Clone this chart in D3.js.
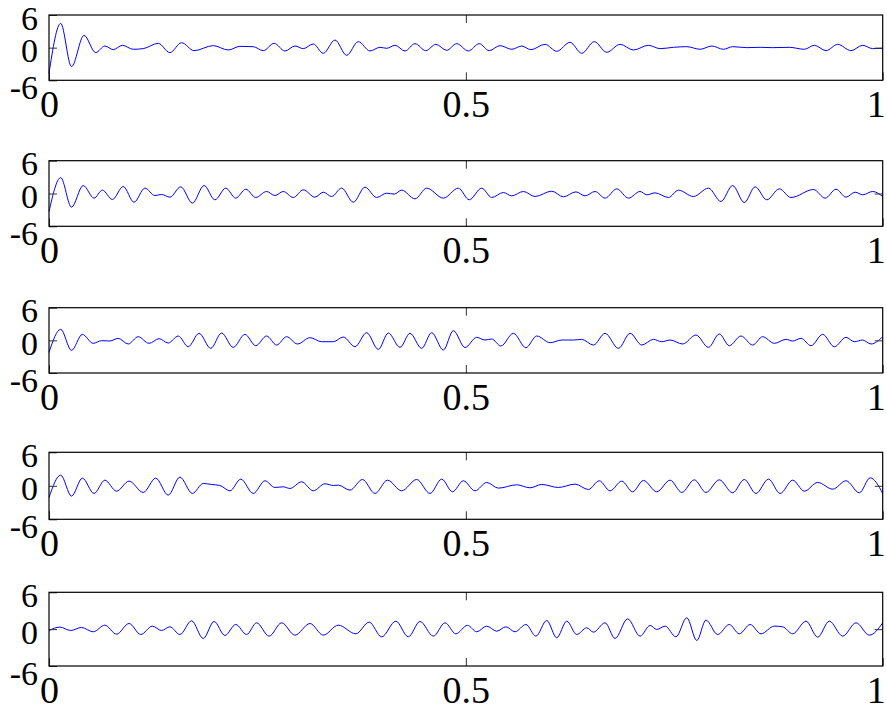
<!DOCTYPE html>
<html>
<head>
<meta charset="utf-8">
<script src="https://cdn.jsdelivr.net/npm/d3@7"></script>
<style>
body { margin: 0; background: #fff; }
svg { display: block; }
</style>
</head>
<body>
<div id="chart"></div>
<script>
// tick values
const xTicks = [0, 0.5, 1];
const yTicks = [-6, 0, 6];

// signal 1 (extrema: time, value)
const sig1T = [0, 0.014, 0.027, 0.042, 0.056, 0.067, 0.077, 0.088, 0.101, 0.113,
    0.131, 0.145, 0.159, 0.174, 0.197, 0.215, 0.229, 0.245, 0.257, 0.270,
    0.283, 0.295, 0.305, 0.317, 0.329, 0.343, 0.357, 0.371, 0.385, 0.397,
    0.405, 0.415, 0.427, 0.439, 0.452, 0.464, 0.477, 0.489, 0.503, 0.516,
    0.528, 0.541, 0.555, 0.567, 0.578, 0.595, 0.609, 0.625, 0.639, 0.654,
    0.669, 0.685, 0.701, 0.719, 0.733, 0.749, 0.765, 0.781, 0.795, 0.809,
    0.820, 0.837, 0.853, 0.868, 0.888, 0.906, 0.918, 0.932, 0.946, 0.962,
    0.976, 0.988, 1.0];
const sig1V = [-4.7, 4.45, -3.48, 2.26, -0.91, 0.30, -0.37, 0.43, -0.30, -0.18,
    0.79, -0.91, 0.91, -0.55, 0.37, -0.43, 0.24, 0.18, -0.55, 0.79,
    -0.61, 0.30, -0.18, 0.67, -1.04, 1.40, -1.40, 1.10, -0.61, 0.06,
    -0.12, 0.43, -0.61, 0.73, -0.55, 0.61, -0.49, 0.73, -0.61, 0.73,
    -0.55, 0.37, -0.30, 0.30, -0.37, 0.61, -0.67, 0.98, -1.04, 1.10,
    -0.85, 0.61, -0.43, 0.43, -0.18, 0.06, 0.18, -0.30, 0.30, -0.30,
    0.18, 0, 0.06, 0, 0.06, -0.30, 0.43, -0.55, 0.61, -0.55,
    0.43, -0.18, -0.12];

// signal 2
const sig2T = [0, 0.014, 0.027, 0.041, 0.054, 0.064, 0.076, 0.089, 0.102, 0.115,
    0.127, 0.135, 0.145, 0.158, 0.172, 0.186, 0.199, 0.212, 0.224, 0.236,
    0.248, 0.261, 0.271, 0.281, 0.293, 0.305, 0.319, 0.329, 0.339, 0.351,
    0.365, 0.379, 0.393, 0.405, 0.414, 0.423, 0.439, 0.453, 0.473, 0.491,
    0.504, 0.519, 0.531, 0.545, 0.555, 0.569, 0.583, 0.603, 0.617, 0.632,
    0.643, 0.655, 0.667, 0.681, 0.695, 0.709, 0.717, 0.727, 0.743, 0.755,
    0.773, 0.791, 0.806, 0.820, 0.834, 0.847, 0.861, 0.876, 0.890, 0.917,
    0.931, 0.944, 0.956, 0.967, 0.976, 0.988, 1.0];
const sig2V = [-3.3, 2.9, -2.5, 1.46, -0.85, 0.61, -1.1, 1.28, -1.59, 0.98,
    -0.37, -0.18, -0.67, 1.22, -1.77, 1.46, -1.16, 0.98, -0.85, 0.79,
    -0.73, 0.37, -0.37, 0.37, -0.73, 0.67, -0.67, 0.24, -0.55, 0.98,
    -1.59, 1.16, -0.73, 0.06, -0.12, 0.61, -0.98, 0.98, -0.85, 0.98,
    -1.16, 0.98, -0.73, 0.18, -0.43, 0.37, -0.55, 0.43, -0.61, 0.30,
    -0.43, 0.37, -0.85, 0.85, -0.85, 0.37, -0.24, 0.12, -0.73, 0.61,
    -0.55, 0.98, -1.46, 1.46, -1.65, 1.22, -1.16, 0.85, -0.73, 0.73,
    -0.85, 0.79, -0.67, 0.24, -0.24, 0.37, -0.55];

// signal 3
const sig3T = [0, 0.014, 0.027, 0.040, 0.053, 0.063, 0.073, 0.083, 0.095, 0.107,
    0.120, 0.132, 0.143, 0.155, 0.167, 0.180, 0.194, 0.207, 0.221, 0.235,
    0.248, 0.261, 0.273, 0.285, 0.298, 0.313, 0.327, 0.341, 0.353, 0.367,
    0.381, 0.395, 0.407, 0.421, 0.433, 0.447, 0.459, 0.473, 0.485, 0.499,
    0.513, 0.523, 0.531, 0.542, 0.557, 0.572, 0.585, 0.601, 0.615, 0.629,
    0.639, 0.653, 0.667, 0.683, 0.697, 0.711, 0.725, 0.735, 0.745, 0.760,
    0.776, 0.791, 0.804, 0.816, 0.830, 0.844, 0.856, 0.870, 0.884, 0.892,
    0.902, 0.914, 0.928, 0.942, 0.956, 0.966, 0.976, 0.986, 1.0];
const sig3V = [-2.2, 2.02, -1.84, 1.10, -0.55, -0.06, -0.12, 0.37, -0.67, 0.67,
    -0.55, 0.31, -0.49, 0.80, -1.17, 1.29, -1.47, 1.35, -1.29, 1.10,
    -0.98, 0.80, -0.86, 0.67, -0.67, 0.49, -0.25, -0.25, 0.61, -1.17,
    1.41, -1.66, 1.35, -1.29, 1.29, -1.47, 1.41, -1.78, 1.78, -1.32,
    0.55, 0.06, 0.25, -1.04, 1.29, -1.35, 0.80, -0.43, 0.06, 0.06,
    0.18, -0.86, 1.29, -1.47, 1.29, -0.86, 0.18, -0.25, 0.06, -0.67,
    0.98, -1.29, 1.17, -0.98, 0.80, -0.86, 0.67, -0.55, 0.18, -0.12,
    0.37, -0.98, 1.10, -1.17, 0.55, -0.25, 0.06, -0.67, 0.67];

// signal 4
const sig4T = [0, 0.014, 0.027, 0.040, 0.054, 0.067, 0.081, 0.096, 0.113, 0.128,
    0.143, 0.157, 0.172, 0.185, 0.195, 0.205, 0.217, 0.230, 0.245, 0.259,
    0.271, 0.281, 0.289, 0.303, 0.317, 0.331, 0.341, 0.347, 0.361, 0.376,
    0.391, 0.406, 0.423, 0.441, 0.457, 0.471, 0.484, 0.497, 0.511, 0.525,
    0.539, 0.561, 0.577, 0.591, 0.611, 0.631, 0.647, 0.660, 0.673, 0.687,
    0.700, 0.713, 0.729, 0.745, 0.759, 0.774, 0.788, 0.804, 0.820, 0.834,
    0.848, 0.863, 0.877, 0.892, 0.906, 0.922, 0.940, 0.956, 0.972, 0.985,
    1.0];
const sig4V = [-2.09, 1.91, -1.85, 1.37, -1.37, 1.01, -0.96, 0.84, -1.19, 1.37,
    -1.67, 1.55, -1.37, 0.42, 0.24, 0.06, -0.90, 1.19, -1.37, 0.90,
    -0.30, -0.18, -0.48, 0.72, -0.90, 0.36, 0.06, 0.12, -0.78, 1.13,
    -1.37, 1.01, -0.90, 1.13, -1.37, 1.19, -1.07, 0.90, -0.90, 0.60,
    -0.42, 0.18, -0.36, 0.24, -0.30, 0.30, -0.66, 0.90, -0.90, 0.84,
    -1.07, 0.96, -1.07, 1.01, -1.19, 1.07, -1.19, 1.07, -1.25, 1.13,
    -1.37, 1.19, -1.37, 1.01, -0.96, 0.60, -0.60, 0.90, -1.25, 1.43,
    -1.37];

// signal 5
const sig5T = [0, 0.013, 0.026, 0.039, 0.053, 0.067, 0.081, 0.096, 0.110, 0.124,
    0.135, 0.145, 0.157, 0.171, 0.185, 0.198, 0.211, 0.224, 0.237, 0.249,
    0.264, 0.279, 0.295, 0.313, 0.329, 0.347, 0.368, 0.384, 0.399, 0.416,
    0.431, 0.445, 0.461, 0.475, 0.488, 0.502, 0.513, 0.525, 0.537, 0.548,
    0.559, 0.572, 0.584, 0.597, 0.609, 0.621, 0.633, 0.645, 0.653, 0.667,
    0.679, 0.694, 0.709, 0.721, 0.729, 0.739, 0.752, 0.765, 0.777, 0.788,
    0.802, 0.816, 0.828, 0.841, 0.854, 0.870, 0.880, 0.892, 0.908, 0.922,
    0.936, 0.952, 0.968, 0.984, 1.0];
const sig5V = [-0.22, 0.33, -0.22, 0.27, -0.43, 0.65, -0.82, 0.92, -0.87, 0.49,
    -0.22, 0.38, -0.87, 1.36, -1.52, 1.25, -1.03, 0.76, -0.87, 1.03,
    -1.14, 1.03, -0.98, 0.92, -0.98, 0.65, -0.76, 1.14, -1.25, 1.30,
    -1.25, 1.25, -1.14, 1.03, -0.76, 0.62, -0.43, 0.49, -0.33, 0.38,
    -0.43, 0.76, -1.14, 1.41, -1.41, 1.30, -0.87, 0.22, -0.49, 1.03,
    -1.52, 1.68, -1.14, 0.60, -0.05, 0.49, -1.25, 1.85, -1.85, 1.47,
    -0.87, 0.76, -0.76, 0.76, -0.76, 0.49, 0.38, -0.76, 1.30, -1.30,
    1.30, -1.14, 1.03, -0.98, 1.03];

const signals = [[sig1T, sig1V], [sig2T, sig2V], [sig3T, sig3V], [sig4T, sig4V], [sig5T, sig5V]];

// layout
const width = 887;
const height = 709;
const plotLeft = 49;
const plotRight = 882.7;
const panelTop = [15, 160.7, 307.7, 452.3, 592.3];
const panelBottom = [80.3, 226.3, 373, 519.3, 666];
const TICK_LEN = 8;
const fontFamily = "'Liberation Serif', 'DejaVu Serif', serif";

const svg = d3.select("#chart")
    .append("svg")
    .attr("width", width)
    .attr("height", height);

const x = d3.scaleLinear().domain([0, 1]).range([plotLeft, plotRight]);

const styleAxis = (sel, fontSize) => {
    sel.select(".domain").remove();
    sel.selectAll(".tick line").attr("stroke", "#333");
    sel.selectAll(".tick text")
        .attr("fill", "#000")
        .style("font-family", fontFamily)
        .style("font-size", fontSize);
};

signals.forEach(([t, v], i) => {
    const h = panelBottom[i] - panelTop[i];
    const y = d3.scaleLinear().domain([-6, 6]).range([h, 0]);
    const g = svg.append("g").attr("transform", `translate(0,${panelTop[i]})`);

    const line = d3.line()
        .x(d => x(d[0]))
        .y(d => y(d[1]))
        .curve(d3.curveMonotoneX);

    g.append("path")
        .datum(d3.zip(t, v))
        .attr("fill", "none")
        .attr("stroke", "#0000ff")
        .attr("stroke-width", 1)
        .attr("d", line);

    // bottom ticks + labels
    const bottom = g.append("g")
        .attr("transform", `translate(0,${h})`)
        .call(d3.axisBottom(x).tickValues(xTicks).tickSizeInner(-TICK_LEN).tickSizeOuter(0)
            .tickPadding(10).tickFormat(d => String(d)));
    styleAxis(bottom, "38px");
    bottom.selectAll(".tick text").attr("dx", d => d === 1 ? -7 : 0);

    // top ticks
    const top = g.append("g")
        .call(d3.axisTop(x).tickValues([0.5]).tickSizeInner(-TICK_LEN).tickSizeOuter(0).tickFormat(""));
    styleAxis(top, "0px");

    // left ticks + labels
    const leftAxis = g.append("g")
        .attr("transform", `translate(${plotLeft},0)`)
        .call(d3.axisLeft(y).tickValues(yTicks).tickSizeInner(-TICK_LEN).tickSizeOuter(0)
            .tickPadding(11).tickFormat(d => String(d)));
    styleAxis(leftAxis, "34px");
    leftAxis.selectAll(".tick text").attr("dy", d => d === -6 ? 18 : 14);

    // right zero tick
    const rightAxis = g.append("g")
        .attr("transform", `translate(${plotRight},0)`)
        .call(d3.axisRight(y).tickValues([0]).tickSizeInner(-TICK_LEN).tickSizeOuter(0).tickFormat(""));
    styleAxis(rightAxis, "0px");

    // frame
    g.append("rect")
        .attr("x", plotLeft)
        .attr("y", 0)
        .attr("width", plotRight - plotLeft)
        .attr("height", h)
        .attr("fill", "none")
        .attr("stroke", "#000")
        .attr("stroke-width", 1.2);
});
</script>
</body>
</html>
